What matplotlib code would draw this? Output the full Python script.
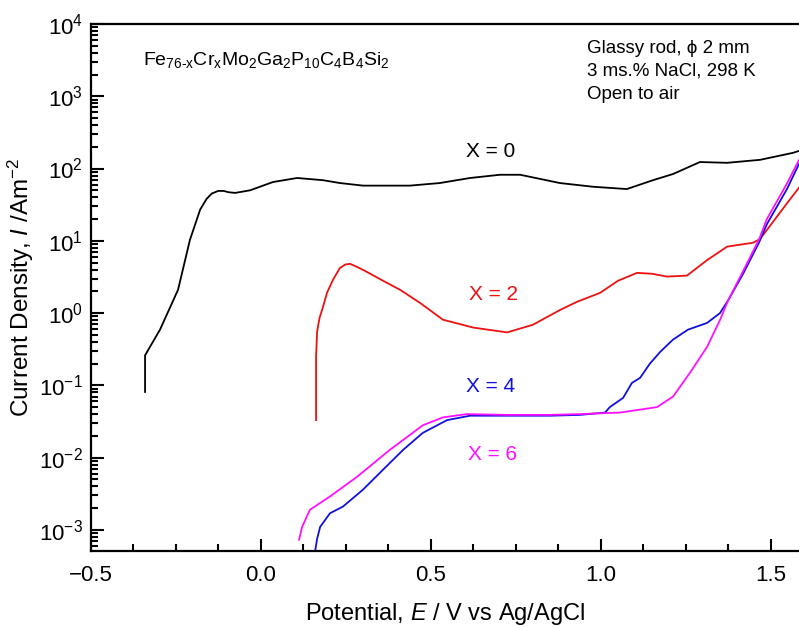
import matplotlib
matplotlib.use("Agg")
import matplotlib.pyplot as plt
from matplotlib.ticker import MultipleLocator, LogLocator, NullFormatter, FixedLocator

plt.rcParams['font.family'] = ['Liberation Sans', 'DejaVu Sans']
plt.rcParams['mathtext.fontset'] = 'custom'
plt.rcParams['mathtext.rm'] = 'Liberation Sans'
plt.rcParams['mathtext.it'] = 'Liberation Sans:italic'
plt.rcParams['mathtext.default'] = 'regular'

# X = 0 (black)
x0 = [-0.341, -0.341, -0.297, -0.244, -0.209, -0.179, -0.160, -0.145, -0.126, -0.110,
      -0.095, -0.076, -0.032, 0.035, 0.106, 0.182, 0.232, 0.300, 0.438, 0.526, 0.615,
      0.703, 0.762, 0.820, 0.879, 0.976, 1.076, 1.153, 1.212, 1.291, 1.371, 1.468,
      1.565, 1.582]
y0 = [0.081, 0.26, 0.59, 2.1, 10.3, 27, 38, 45, 49, 49,
      47, 46, 50, 65, 74, 69, 63, 58, 58, 63, 74,
      82, 82, 72, 63, 56, 52, 69, 84, 123, 120, 132,
      165, 175]

# X = 2 (red)
x2 = [0.162, 0.162, 0.165, 0.172, 0.182, 0.194, 0.212, 0.232, 0.248, 0.262, 0.285, 0.312,
      0.359, 0.409, 0.468, 0.535, 0.624, 0.724, 0.800, 0.879, 0.929, 0.997, 1.050,
      1.106, 1.150, 1.194, 1.253, 1.312, 1.371, 1.447, 1.468, 1.547, 1.582]
y2 = [0.033, 0.25, 0.55, 0.85, 1.2, 1.9, 2.9, 4.2, 4.7, 4.8, 4.3, 3.7,
      2.8, 2.1, 1.38, 0.81, 0.63, 0.54, 0.69, 1.1, 1.43, 1.9, 2.8,
      3.6, 3.5, 3.2, 3.3, 5.4, 8.3, 9.4, 10.6, 33, 54]

# X = 4 (blue)
x4 = [0.159, 0.165, 0.174, 0.203, 0.241, 0.300, 0.359, 0.418, 0.476, 0.547, 0.615,
      0.724, 0.850, 0.938, 1.012, 1.026, 1.065, 1.091, 1.115, 1.144, 1.174, 1.212,
      1.256, 1.312, 1.350, 1.374, 1.418, 1.465, 1.488, 1.547, 1.582]
y4 = [5e-4, 7.5e-4, 1.1e-3, 1.7e-3, 2.1e-3, 3.6e-3, 6.8e-3, 0.0128, 0.022, 0.033, 0.038,
      0.038, 0.038, 0.039, 0.042, 0.050, 0.067, 0.108, 0.127, 0.20, 0.29, 0.43,
      0.59, 0.73, 1.0, 1.5, 3.5, 9.5, 17, 52, 115]

# X = 6 (magenta)
x6 = [0.112, 0.121, 0.144, 0.203, 0.282, 0.379, 0.476, 0.535, 0.606, 0.724, 0.850,
      0.938, 1.056, 1.165, 1.212, 1.262, 1.312, 1.350, 1.374, 1.418, 1.465, 1.488,
      1.547, 1.582]
y6 = [7.3e-4, 1.1e-3, 1.9e-3, 2.9e-3, 5.4e-3, 0.0128, 0.028, 0.036, 0.040, 0.039, 0.039,
      0.040, 0.042, 0.050, 0.070, 0.15, 0.34, 0.80, 1.5, 3.8, 10.5, 20,
      62, 130]

y_major = [1e-3, 1e-2, 1e-1, 1e0, 1e1, 1e2, 1e3, 1e4]

fig = plt.figure(figsize=(7.99, 6.27), dpi=100)
ax = fig.add_axes([91/799, 1-551/627, 1-91/799, (551-24)/627])

ax.plot(x0, y0, color='black', lw=1.3)
ax.plot(x2, y2, color='#ee1111', lw=1.3)
ax.plot(x4, y4, color='#1010e0', lw=1.3)
ax.plot(x6, y6, color='#ff10ff', lw=1.3)

ax.set_yscale('log')
ax.set_xlim(-0.5, 1.5824)
ax.set_ylim(5.1e-4, 1e4)

ax.xaxis.set_major_locator(MultipleLocator(0.5))
ax.xaxis.set_minor_locator(MultipleLocator(0.125))
ax.yaxis.set_major_locator(FixedLocator(y_major))
ax.yaxis.set_minor_locator(LogLocator(base=10, subs=range(2, 10), numticks=20))
ax.yaxis.set_minor_formatter(NullFormatter())

ax.tick_params(axis='both', which='both', direction='in', top=False, right=False,
               width=1.5, labelsize=16)
ax.tick_params(axis='both', which='major', length=9)
ax.tick_params(axis='both', which='minor', length=5)
ax.tick_params(axis='x', pad=10)
ax.tick_params(axis='y', pad=6)

for s in ['left', 'bottom', 'top']:
    ax.spines[s].set_linewidth(1.6)
ax.spines['right'].set_visible(False)

ax.set_xlabel('Potential, $\\mathit{E}$ / V vs Ag/AgCl', fontsize=17, labelpad=11)
ax.set_ylabel('Current Density, $\\mathit{I}$ /Am$^{-2}$', fontsize=17.5, labelpad=2)

ax.text(0.074, 0.932, 'Fe$_{76\\text{-}x}$Cr$_x$Mo$_2$Ga$_2$P$_{10}$C$_4$B$_4$Si$_2$',
        transform=ax.transAxes, fontsize=14, ha='left', va='center')
ax.text(0.700, 0.970, 'Glassy rod, \u03d5 2 mm\n3 ms.% NaCl, 298 K\nOpen to air',
        transform=ax.transAxes, fontsize=13.5, ha='left', va='top', linespacing=1.45)

ax.text(0.674, 170, 'X = 0', fontsize=15, color='black', ha='center', va='center')
ax.text(0.685, 1.78, 'X = 2', fontsize=15, color='#ee1111', ha='center', va='center')
ax.text(0.674, 0.095, 'X = 4', fontsize=15, color='#1010e0', ha='center', va='center')
ax.text(0.682, 0.011, 'X = 6', fontsize=15, color='#ff10ff', ha='center', va='center')

fig.savefig('out.png', dpi=100)
